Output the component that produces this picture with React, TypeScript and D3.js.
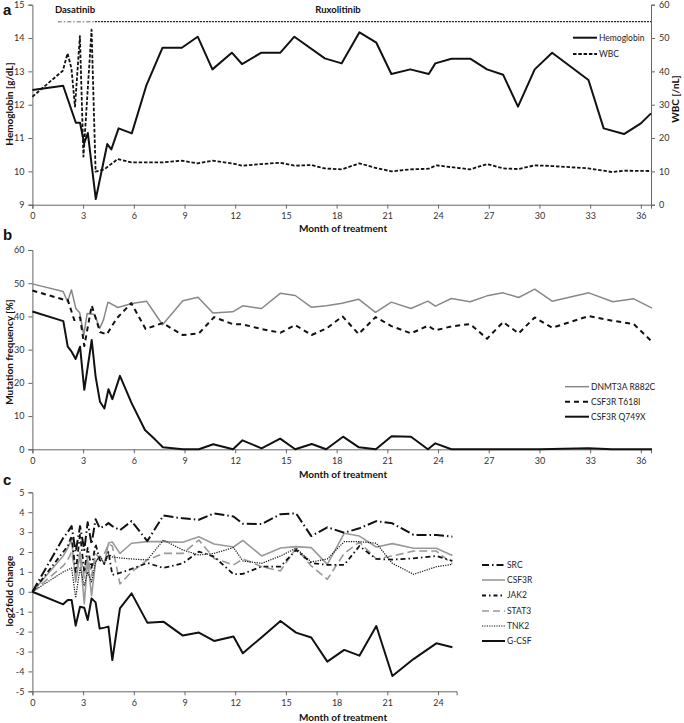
import React, { useRef, useEffect } from "react";
import * as d3 from "d3";

// ---------- Panel a data ----------
const hbMonths = [0, 1.82, 2.57, 2.82, 3.06, 3.28, 3.75, 4.43, 4.67, 5.1, 5.88, 6.75, 7.7, 8.84, 9.78, 10.65, 11.8, 12.4, 13.55, 14.67, 15.5, 17.3, 18.3, 19.35, 20.35, 21.24, 22.36, 23.45, 23.84, 24.79, 25.9, 26.9, 27.85, 28.73, 29.72, 30.75, 32.9, 33.8, 35.0, 36.0, 36.6];
const hbValues = [12.44, 12.57, 11.46, 11.46, 10.84, 11.15, 9.17, 10.82, 10.66, 11.29, 11.14, 12.59, 13.71, 13.71, 14.04, 13.06, 13.56, 13.22, 13.56, 13.56, 14.04, 13.39, 13.24, 14.17, 13.86, 12.92, 13.06, 12.92, 13.24, 13.38, 13.38, 13.06, 12.9, 11.94, 13.06, 13.56, 12.74, 11.29, 11.12, 11.44, 11.74];
const wbcMonths = [0, 1.8, 2.08, 2.31, 2.52, 2.81, 3.02, 3.5, 3.74, 4.25, 5.05, 5.85, 7.7, 8.84, 9.78, 10.65, 11.8, 12.4, 13.55, 14.67, 15.5, 16.5, 17.3, 18.3, 19.35, 20.35, 21.24, 22.36, 23.45, 23.9, 25.9, 26.9, 27.85, 28.73, 29.72, 30.75, 32.9, 34.3, 35.0, 36.6];
const wbcValues = [32.4, 40.2, 45.4, 40.9, 29.4, 50.6, 14.4, 52.5, 9.9, 10.6, 13.7, 12.7, 12.7, 13.2, 12.4, 13.2, 12.4, 11.7, 12.2, 12.6, 11.7, 11.9, 10.9, 10.6, 12.4, 11.0, 10.0, 10.6, 10.8, 11.8, 10.6, 12.2, 10.9, 10.7, 11.8, 11.6, 10.9, 9.8, 10.2, 10.1];
const aTicksX = [0, 3, 6, 9, 12, 15, 18, 21, 24, 27, 30, 33, 36];
const aTicksHb = [9, 10, 11, 12, 13, 14, 15];
const aTicksWbc = [0, 10, 20, 30, 40, 50, 60];

// ---------- Panel b data ----------
const dnmtMonths = [0, 1.82, 2.08, 2.31, 2.57, 2.8, 3.04, 3.24, 3.69, 3.98, 4.2, 4.47, 5.06, 5.88, 6.75, 7.7, 8.9, 9.8, 10.68, 11.85, 12.45, 13.56, 14.68, 15.55, 16.5, 17.4, 18.32, 19.3, 20.3, 21.24, 22.4, 23.4, 23.84, 24.79, 25.9, 26.9, 27.85, 28.77, 29.72, 30.75, 32.92, 34.34, 35.58, 36.66];
const dnmtValues = [49.8, 47.5, 44.4, 48.0, 42.4, 41.1, 34.4, 40.9, 40.6, 36.4, 38.9, 44.3, 42.7, 43.9, 44.6, 37.5, 44.7, 45.8, 41.0, 41.4, 43.2, 42.4, 47.0, 46.3, 42.8, 43.2, 44.0, 45.2, 41.2, 44.3, 42.4, 44.6, 43.1, 45.4, 44.4, 46.2, 47.1, 45.7, 48.2, 44.6, 47.1, 44.4, 45.3, 42.5];
const t618Months = [0, 1.82, 2.09, 2.48, 2.82, 3.07, 3.51, 4.0, 4.4, 4.99, 5.85, 6.7, 7.7, 8.9, 9.85, 10.75, 11.85, 12.45, 13.56, 14.68, 15.55, 16.52, 17.4, 18.35, 19.3, 20.3, 21.24, 22.4, 23.4, 23.84, 24.79, 25.9, 26.9, 27.85, 28.77, 29.72, 30.75, 32.92, 34.34, 35.58, 36.66];
const t618Values = [47.8, 45.1, 45.0, 38.9, 39.7, 31.1, 43.3, 35.3, 34.6, 39.4, 44.0, 36.2, 38.0, 34.4, 34.9, 39.8, 37.7, 37.6, 36.2, 35.1, 37.4, 34.4, 36.4, 40.0, 34.7, 39.8, 37.1, 34.9, 37.2, 35.8, 37.0, 37.7, 33.3, 38.3, 34.9, 39.7, 36.6, 40.1, 38.7, 37.7, 32.4];
const q749Months = [0, 1.83, 2.09, 2.32, 2.56, 2.82, 3.07, 3.51, 3.74, 4.0, 4.26, 4.5, 4.73, 5.18, 5.87, 6.66, 7.25, 7.72, 8.9, 9.85, 10.7, 11.87, 12.43, 13.56, 14.66, 15.55, 16.53, 17.38, 18.38, 19.32, 20.32, 21.25, 22.4, 23.4, 23.84, 24.79, 27.0, 30.0, 32.9, 34.3, 36.66];
const q749Values = [41.5, 38.6, 30.9, 29.4, 27.2, 30.9, 17.9, 32.9, 21.9, 14.3, 12.3, 18.1, 15.1, 22.1, 13.9, 5.8, 3.0, 0.6, 0, 0, 1.5, 0, 2.7, 0.3, 3.2, 0, 1.6, 0, 3.8, 0.6, 0, 3.9, 3.8, 0, 1.8, 0, 0, 0, 0.3, 0, 0];
const bTicksX = [0, 3, 6, 9, 12, 15, 18, 21, 24, 27, 30, 33, 36];
const bTicksY = [0, 10, 20, 30, 40, 50, 60];

// ---------- Panel c data ----------
const cMonths = [0, 1.82, 2.09, 2.32, 2.56, 2.82, 3.07, 3.27, 3.5, 3.74, 3.98, 4.26, 4.5, 4.73, 5.18, 5.87, 6.8, 7.75, 8.9, 9.85, 10.75, 11.9, 12.45, 13.57, 14.68, 15.6, 16.5, 17.45, 18.45, 19.35, 20.35, 21.3, 22.55, 23.9, 24.85];
const srcValues = [0, 2.7, 3.0, 3.3, 2.0, 3.3, 2.1, 3.5, 2.4, 3.65, 3.2, 3.3, 3.45, 3.3, 3.1, 3.55, 2.55, 3.83, 3.69, 3.62, 3.94, 3.78, 3.42, 3.41, 3.9, 3.94, 2.8, 3.24, 2.97, 3.19, 3.55, 3.44, 2.86, 2.86, 2.77];
const csf3rValues = [0, 1.8, 2.2, 2.6, 0.5, 1.9, -0.6, 1.6, -0.2, 1.5, 1.8, 1.4, 2.45, 2.5, 1.93, 2.44, 2.52, 2.52, 2.49, 2.77, 2.4, 2.25, 2.58, 1.8, 2.2, 2.27, 2.22, 1.38, 2.94, 2.8, 2.25, 2.42, 2.19, 2.19, 1.82];
const jak2Values = [0, 2.0, 2.3, 2.8, 1.0, 2.9, 1.0, 2.2, 1.2, 2.4, 1.6, 1.4, 2.0, 0.85, 0.95, 1.15, 1.45, 1.2, 1.43, 2.02, 1.77, 0.88, 0.9, 1.27, 1.27, 2.1, 1.45, 1.35, 1.35, 2.3, 1.65, 1.62, 1.68, 1.8, 1.55];
const stat3Values = [0, 1.3, 1.6, 2.0, 0.9, 2.0, 0.7, 1.8, 0.8, 1.9, 1.7, 1.9, 2.4, 2.3, 0.4, 1.0, 1.6, 1.93, 1.93, 2.6, 1.68, 1.35, 1.65, 1.26, 1.05, 2.19, 1.3, 0.63, 1.93, 2.5, 1.65, 1.8, 2.05, 2.05, 1.4];
const tnk2Values = [0, 1.0, 1.1, 1.2, -0.3, 1.2, 0.3, 1.0, 0.5, 1.5, 1.8, 1.4, 1.9, 1.75, 1.7, 1.65, 1.6, 2.6, 2.1, 1.85, 1.93, 2.22, 1.55, 1.43, 1.8, 2.19, 1.5, 1.65, 2.52, 2.52, 2.44, 1.43, 0.88, 1.26, 1.38];
const gcsfValues = [0, -0.63, -0.41, -0.41, -1.7, -0.75, -0.8, -1.42, -0.33, -0.53, -1.85, -1.8, -1.75, -3.43, -0.83, -0.08, -1.55, -1.5, -2.2, -2.05, -2.47, -2.25, -3.09, -2.28, -1.47, -2.05, -2.3, -3.51, -2.92, -3.21, -1.72, -4.23, -3.38, -2.59, -2.79];
const cTicksX = [0, 3, 6, 9, 12, 15, 18, 21, 24];
const cTicksY = [-5, -4, -3, -2, -1, 0, 1, 2, 3, 4, 5];

const FONT = "Lato, 'Open Sans', sans-serif";

function Axis({ scale, orient, transform, tickValues }: any) {
  const ref = useRef<SVGGElement>(null);
  useEffect(() => {
    const gen =
      orient === "left" ? d3.axisLeft(scale) :
      orient === "right" ? d3.axisRight(scale) : d3.axisBottom(scale);
    gen.tickValues(tickValues).tickSizeOuter(0).tickSize(4).tickPadding(4).tickFormat((d: any) => String(d));
    const g = d3.select(ref.current as SVGGElement);
    g.call(gen as any);
    g.attr("font-family", FONT).attr("font-size", 9);
    g.selectAll("path,line").attr("stroke", "#666").attr("stroke-width", 1);
    g.selectAll("text").attr("fill", "#333");
  });
  return <g ref={ref} transform={transform} />;
}

function Series({ xs, ys, x, y, stroke, width, dash }: any) {
  const line = d3.line<number>().x((_, i) => x(xs[i])).y((d) => y(d));
  return <path d={line(ys) || ""} fill="none" stroke={stroke} strokeWidth={width} strokeDasharray={dash} strokeLinejoin="round" />;
}

function LegendItem({ x, y, label, stroke, width, dash, len }: any) {
  return (
    <g>
      <line x1={x} x2={x + len} y1={y} y2={y} stroke={stroke} strokeWidth={width} strokeDasharray={dash} />
      <text x={x + len + 2} y={y} dy="0.35em" fontSize={8.5} fontFamily={FONT} fill="#222">{label}</text>
    </g>
  );
}

export default function App() {
  const L = 32.4;
  // Panel a scales
  const xA = d3.scaleLinear().domain([0, 36.6]).range([L, 651]);
  const yHb = d3.scaleLinear().domain([9, 15]).range([204.7, 4.7]);
  const yWbc = d3.scaleLinear().domain([0, 60]).range([204.7, 4.7]);
  // Panel b
  const xB = d3.scaleLinear().domain([0, 36.6]).range([L, 651]);
  const yB = d3.scaleLinear().domain([0, 60]).range([449.3, 250]);
  // Panel c
  const xC = d3.scaleLinear().domain([0, 25.1]).range([L, 456.6]);
  const yC = d3.scaleLinear().domain([-5, 5]).range([691.3, 492.3]);

  const title = { fontFamily: FONT, fontWeight: 700, fontSize: 10, fill: "#111", textAnchor: "middle" as const };
  const letter = { fontFamily: "Arial, 'Liberation Sans', sans-serif", fontWeight: 700, fontSize: 15, fill: "#111" };

  return (
    <svg width={684} height={723} style={{ position: "absolute", left: 0, top: 0, background: "#fff" }}>
      {/* ---------- Panel a ---------- */}
      <text x={3} y={15} {...letter}>a</text>
      <line x1={xA(1.5)} x2={xA(3.7)} y1={21.7} y2={21.7} stroke="#999" strokeWidth={1.5} strokeDasharray="4,2,1.5,2" />
      <line x1={xA(3.7)} x2={651} y1={21.7} y2={21.7} stroke="#222" strokeWidth={1.3} strokeDasharray="2,1" />
      <text x={75} y={13} {...title} fontSize={9.5}>Dasatinib</text>
      <text x={338} y={13} {...title} fontSize={9.5}>Ruxolitinib</text>
      <Axis scale={yHb} orient="left" transform={`translate(${L},0)`} tickValues={aTicksHb} />
      <Axis scale={yWbc} orient="right" transform={`translate(651,0)`} tickValues={aTicksWbc} />
      <Axis scale={xA} orient="bottom" transform={`translate(0,204.7)`} tickValues={aTicksX} />
      <Series xs={wbcMonths} ys={wbcValues} x={xA} y={yWbc} stroke="#111" width={1.8} dash="3.5,1.8" />
      <Series xs={hbMonths} ys={hbValues} x={xA} y={yHb} stroke="#111" width={2} />
      <LegendItem x={573} y={37.7} len={24} label="Hemoglobin" stroke="#111" width={2} />
      <LegendItem x={573} y={54} len={24} label="WBC" stroke="#111" width={1.8} dash="3.5,1.8" />
      <text transform="translate(13,104) rotate(-90)" {...title}>Hemoglobin [g/dL]</text>
      <text transform="translate(679,99) rotate(-90)" {...title}>WBC [/nL]</text>
      <text x={343} y={232} {...title}>Month of treatment</text>

      {/* ---------- Panel b ---------- */}
      <text x={3} y={240} {...letter}>b</text>
      <Axis scale={yB} orient="left" transform={`translate(${L},0)`} tickValues={bTicksY} />
      <Axis scale={xB} orient="bottom" transform={`translate(0,449.3)`} tickValues={bTicksX} />
      <Series xs={dnmtMonths} ys={dnmtValues} x={xB} y={yB} stroke="#888" width={1.5} />
      <Series xs={t618Months} ys={t618Values} x={xB} y={yB} stroke="#111" width={2} dash="5,4" />
      <Series xs={q749Months} ys={q749Values} x={xB} y={yB} stroke="#111" width={2} />
      <LegendItem x={565} y={386.7} len={24} label="DNMT3A R882C" stroke="#888" width={1.5} />
      <LegendItem x={565} y={401.7} len={24} label="CSF3R T618I" stroke="#111" width={2} dash="5,4" />
      <LegendItem x={565} y={416.7} len={24} label="CSF3R Q749X" stroke="#111" width={2} />
      <text transform="translate(13,352) rotate(-90)" {...title}>Mutation frequency [%]</text>
      <text x={343} y={478} {...title}>Month of treatment</text>

      {/* ---------- Panel c ---------- */}
      <text x={3} y={485} {...letter}>c</text>
      <Axis scale={yC} orient="left" transform={`translate(${L},0)`} tickValues={cTicksY} />
      <Axis scale={xC} orient="bottom" transform={`translate(0,691.3)`} tickValues={cTicksX} />
      <Series xs={cMonths} ys={csf3rValues} x={xC} y={yC} stroke="#999" width={1.6} />
      <Series xs={cMonths} ys={stat3Values} x={xC} y={yC} stroke="#999" width={1.6} dash="8,4" />
      <Series xs={cMonths} ys={tnk2Values} x={xC} y={yC} stroke="#111" width={1.2} dash="1.2,1.2" />
      <Series xs={cMonths} ys={jak2Values} x={xC} y={yC} stroke="#111" width={1.8} dash="5,3,1.5,3" />
      <Series xs={cMonths} ys={srcValues} x={xC} y={yC} stroke="#111" width={2} dash="10,3,1.5,3" />
      <Series xs={cMonths} ys={gcsfValues} x={xC} y={yC} stroke="#111" width={2} />
      <LegendItem x={482} y={565} len={23} label="SRC" stroke="#111" width={2} dash="7,3,1.5,3" />
      <LegendItem x={482} y={580} len={23} label="CSF3R" stroke="#999" width={1.6} />
      <LegendItem x={482} y={595.5} len={23} label="JAK2" stroke="#111" width={1.8} dash="4,3,1.5,3" />
      <LegendItem x={482} y={611} len={23} label="STAT3" stroke="#999" width={1.6} dash="7,4" />
      <LegendItem x={482} y={626} len={23} label="TNK2" stroke="#111" width={1.2} dash="1.2,1.2" />
      <LegendItem x={482} y={641} len={23} label="G-CSF" stroke="#111" width={2} />
      <text transform="translate(13,591) rotate(-90)" {...title}>log2fold change</text>
      <text x={343} y={721} {...title}>Month of treatment</text>
    </svg>
  );
}
